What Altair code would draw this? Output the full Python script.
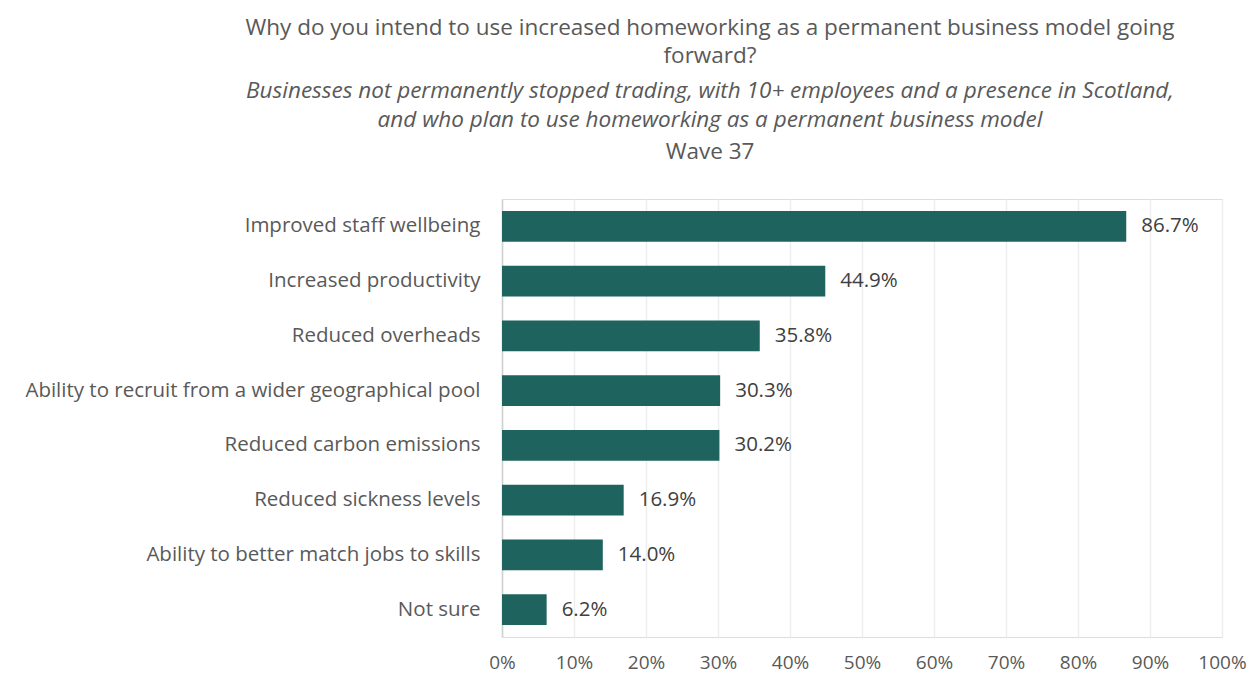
import altair as alt
import pandas as pd

categories = [
    "Improved staff wellbeing",
    "Increased productivity",
    "Reduced overheads",
    "Ability to recruit from a wider geographical pool",
    "Reduced carbon emissions",
    "Reduced sickness levels",
    "Ability to better match jobs to skills",
    "Not sure",
]
values = [86.7, 44.9, 35.8, 30.3, 30.2, 16.9, 14.0, 6.2]
x_ticks = [0, 10, 20, 30, 40, 50, 60, 70, 80, 90, 100]

title_lines = [
    "Why do you intend to use increased homeworking as a permanent business model going",
    "forward?",
]
subtitle_lines = [
    "Businesses not permanently stopped trading, with 10+ employees and a presence in Scotland,",
    "and who plan to use homeworking as a permanent business model",
]
wave_label = "Wave 37"

df = pd.DataFrame({"category": categories, "value": values})
df["label"] = [f"{v:.1f}%" for v in values]

FONT = "Open Sans"
GREY = "#595959"
BAR = "#1E635D"

x_enc = alt.X(
    "value:Q",
    scale=alt.Scale(domain=[0, 100], nice=False),
    axis=alt.Axis(
        values=x_ticks,
        labelExpr="datum.value + '%'",
        title=None,
        grid=True,
        gridColor="#EDEDED",
        gridWidth=1.5,
        domain=False,
        ticks=False,
        labelFlush=False,
        labelPadding=16,
        labelFontSize=19,
        labelColor=GREY,
        labelFont=FONT,
    ),
)
y_enc = alt.Y(
    "category:N",
    sort=categories,
    scale=alt.Scale(paddingInner=0.44, paddingOuter=0.22),
    axis=alt.Axis(
        title=None,
        ticks=False,
        domain=True,
        domainColor="#D0D0D0",
        domainWidth=1.5,
        labelPadding=22,
        labelFontSize=20.5,
        labelColor=GREY,
        labelFont=FONT,
        labelLimit=600,
    ),
)

bars = alt.Chart(df).mark_bar(color=BAR).encode(x=x_enc, y=y_enc)

labels = alt.Chart(df).mark_text(
    align="left", baseline="middle", dx=15, fontSize=20.5, color="#404040", font=FONT
).encode(x="value:Q", y=alt.Y("category:N", sort=categories), text="label:N")

wave = alt.Chart(pd.DataFrame({"t": [wave_label]})).mark_text(
    align="center", baseline="middle", fontSize=22.5, color=GREY, font=FONT
).encode(x=alt.value(208), y=alt.value(-47), text="t:N")

chart = (
    alt.layer(bars, labels, wave)
    .properties(
        width=720,
        height=438,
        autosize=alt.AutoSizeParams(type="none"),
        padding={"left": 494, "top": 191, "right": 30, "bottom": 40},
        title=alt.TitleParams(
            text=title_lines,
            subtitle=subtitle_lines,
            anchor="middle",
            frame="group",
            dx=-152,
            font=FONT,
            fontSize=22.5,
            fontWeight="normal",
            color=GREY,
            lineHeight=28,
            subtitleFont=FONT,
            subtitleFontSize=22.5,
            subtitleFontStyle="italic",
            subtitleColor=GREY,
            subtitleLineHeight=29,
            subtitlePadding=12,
            offset=10,
        ),
    )
    .configure_view(stroke=None)
    .configure(background="white")
)

chart.save("out.html", embed_options={"renderer": "svg", "actions": False})
